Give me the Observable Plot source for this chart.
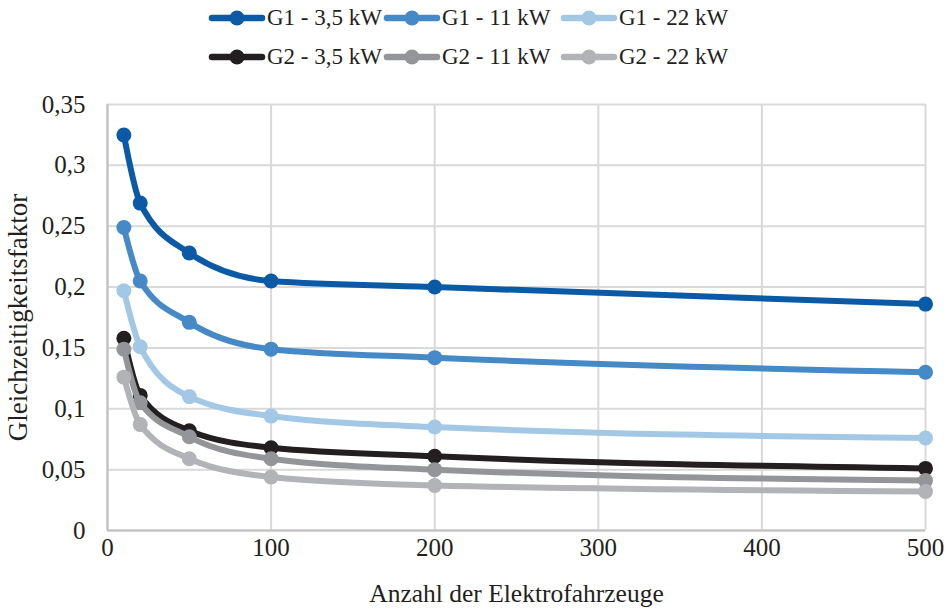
<!DOCTYPE html>
<html>
<head>
<meta charset="utf-8">
<script src="https://cdn.jsdelivr.net/npm/d3@7"></script>
<script src="https://cdn.jsdelivr.net/npm/@observablehq/plot@0.6"></script>
<style>
  html, body { margin: 0; padding: 0; background: #fff; }
  #wrap { width: 949px; font-family: "Liberation Serif", "Times New Roman", serif; color: #231f20; }
  #legend { position: relative; width: 949px; height: 80px; }
  .item { position: absolute; display: flex; align-items: center; font-size: 23px; white-space: nowrap; }
  .item svg { display: block; margin-right: 1px; }
</style>
</head>
<body>
<div id="wrap">
  <div id="legend"></div>
  <div id="chart"></div>
</div>
<script>
// ---- data ----
const evCount = [10, 20, 50, 100, 200, 500];
const seriesNames = ["G1 - 3,5 kW", "G1 - 11 kW", "G1 - 22 kW", "G2 - 3,5 kW", "G2 - 11 kW", "G2 - 22 kW"];
const seriesColors = ["#0b5aa5", "#4589c7", "#a3c8e6", "#231f20", "#939598", "#b1b3b6"];
const g1_35 = [0.325, 0.269, 0.228, 0.205, 0.200, 0.186];
const g1_11 = [0.249, 0.205, 0.171, 0.149, 0.142, 0.130];
const g1_22 = [0.197, 0.151, 0.110, 0.094, 0.085, 0.076];
const g2_35 = [0.158, 0.111, 0.082, 0.068, 0.061, 0.051];
const g2_11 = [0.149, 0.105, 0.077, 0.059, 0.050, 0.041];
const g2_22 = [0.126, 0.087, 0.059, 0.044, 0.037, 0.032];
const seriesValues = [g1_35, g1_11, g1_22, g2_35, g2_11, g2_22];
const xTicks = [0, 100, 200, 300, 400, 500];
const yTicks = [0, 0.05, 0.1, 0.15, 0.2, 0.25, 0.3, 0.35];
const xLabel = "Anzahl der Elektrofahrzeuge";
const yLabel = "Gleichzeitigkeitsfaktor";

// ---- table ----
const rows = [];
seriesNames.forEach((name, i) => {
  evCount.forEach((n, j) => rows.push({series: name, n, v: seriesValues[i][j]}));
});

// ---- legend ----
const legend = document.getElementById("legend");
const itemLeft = [208, 383, 560];
const rowTop = [18, 57];
seriesNames.forEach((name, i) => {
  const div = document.createElement("div");
  div.className = "item";
  div.style.left = itemLeft[i % 3] + "px";
  div.style.top = (rowTop[Math.floor(i / 3)] - 14) + "px";
  div.style.height = "28px";
  const c = seriesColors[i];
  div.innerHTML = `<svg width="58" height="28"><line x1="4" y1="14" x2="54" y2="14" stroke="${c}" stroke-width="6.5" stroke-linecap="round"/><circle cx="29" cy="14" r="7.5" fill="${c}"/></svg><span>${name}</span>`;
  legend.appendChild(div);
});

// ---- chart ----
const marks = [
  Plot.gridX(xTicks, {stroke: "#d9d9d9", strokeOpacity: 1, strokeWidth: 2}),
  Plot.gridY(yTicks, {stroke: "#d9d9d9", strokeOpacity: 1, strokeWidth: 2}),
  Plot.ruleX([0], {stroke: "#bfbfbf", strokeWidth: 2}),
  Plot.ruleY([0], {stroke: "#bfbfbf", strokeWidth: 2}),
  Plot.axisX(xTicks, {tickSize: 0, tickPadding: 8, label: null, fontSize: 25}),
  Plot.axisY(yTicks, {tickSize: 0, tickPadding: 22, label: null, fontSize: 25, tickFormat: d => String(d).replace(".", ",")}),
  Plot.text([yLabel], {frameAnchor: "left", rotate: -90, dx: -89, fontSize: 27, textAnchor: "middle", lineAnchor: "middle"}),
  Plot.text([xLabel], {frameAnchor: "bottom", dy: 63, fontSize: 25.5, textAnchor: "middle", lineAnchor: "middle"})
];
seriesNames.forEach((name, i) => {
  const d = rows.filter(r => r.series === name);
  marks.push(Plot.line(d, {x: "n", y: "v", stroke: seriesColors[i], strokeWidth: 6, curve: "monotone-x"}));
  marks.push(Plot.dot(d, {x: "n", y: "v", fill: seriesColors[i], r: 7.5}));
});

const chart = Plot.plot({
  width: 949,
  height: 531,
  marginLeft: 107,
  marginRight: 24,
  marginTop: 24,
  marginBottom: 81,
  style: {fontFamily: "Liberation Serif, Times New Roman, serif", fontSize: "25px", color: "#231f20", background: "#fff"},
  x: {domain: [0, 500]},
  y: {domain: [0, 0.35]},
  marks
});
document.getElementById("chart").appendChild(chart);
</script>
</body>
</html>
